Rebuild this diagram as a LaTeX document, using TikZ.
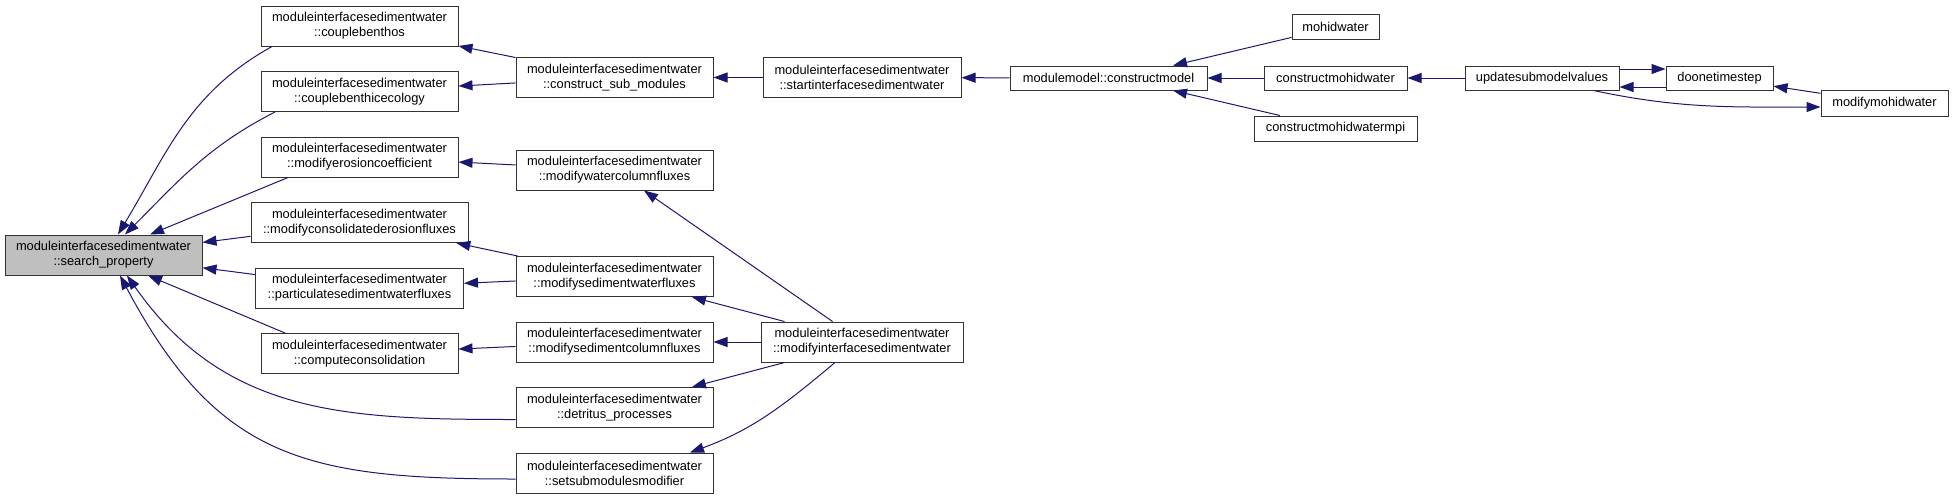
\documentclass[tikz,border=0pt]{standalone}
\usepackage{fontspec}
\setmainfont{Liberation Sans}
\usepackage{tikz}
\usetikzlibrary{arrows.meta, positioning}
\usepackage{xcolor}
\definecolor{edgeblue}{HTML}{191970}

\begin{document}
\begin{tikzpicture}[
    x=1pt, y=1pt,
    node distance=65.5pt,
    func/.style={rectangle, draw=black!80, line width=1pt, fill=white, inner sep=0pt, align=center, minimum width=197pt, minimum height=40pt, font=\fontsize{12.85}{15}\selectfont},
    focus/.style={func, fill=black!25},
    single/.style={func, minimum height=24pt},
    arrow/.style={-{Triangle[length=14pt, width=10pt]}, edgeblue, line width=1pt}
]
\useasboundingbox (0,0) rectangle (1953,-499);

% The function that is searched for
\node[focus] (search_prop) at (103.5,-255) {moduleinterfacesedimentwater\\::search\_property};

% Direct callers arranged vertically
\node[func] (couple_benthos) at (359.5,-26) {moduleinterfacesedimentwater\\::couplebenthos};
\node[func, below of=couple_benthos] (couple_eco) {moduleinterfacesedimentwater\\::couplebenthicecology};
\node[func, below of=couple_eco] (mod_erosion) {moduleinterfacesedimentwater\\::modifyerosioncoefficient};
\node[func, below of=mod_erosion, minimum width=217pt] (mod_consol) {moduleinterfacesedimentwater\\::modifyconsolidatederosionfluxes};
\node[func, below of=mod_consol, minimum width=208pt] (particulate) {moduleinterfacesedimentwater\\::particulatesedimentwaterfluxes};
\node[func, below of=particulate] (compute_consol) {moduleinterfacesedimentwater\\::computeconsolidation};

% Next column
\node[func] (construct_sub) at (614.5,-77.5) {moduleinterfacesedimentwater\\::construct\_sub\_modules};
\node[func] (mod_watercol) at (614.5,-170) {moduleinterfacesedimentwater\\::modifywatercolumnfluxes};
\node[func] (mod_sedwater) at (614.5,-276.5) {moduleinterfacesedimentwater\\::modifysedimentwaterfluxes};
\node[func, below of=mod_sedwater] (mod_sedcol) {moduleinterfacesedimentwater\\::modifysedimentcolumnfluxes};
\node[func, below of=mod_sedcol] (detritus) {moduleinterfacesedimentwater\\::detritus\_processes};
\node[func, below of=detritus] (set_sub) {moduleinterfacesedimentwater\\::setsubmodulesmodifier};

\node[func, minimum width=198pt] (start_isw) at (862,-77.5) {moduleinterfacesedimentwater\\::startinterfacesedimentwater};
\node[func, minimum width=202pt] (modify_isw) at (862,-342) {moduleinterfacesedimentwater\\::modifyinterfacesedimentwater};

% Model and main program
\node[single] (model) at (1108.5,-78) {modulemodel::constructmodel};
\node[single, minimum width=87pt, minimum height=25pt] (mohid) at (1335.5,-27) {mohidwater};
\node[single, minimum width=143pt] (cmohid) at (1335.5,-78) {constructmohidwater};
\node[single, minimum width=163pt, minimum height=25pt] (cmohid_mpi) at (1335.5,-128.5) {constructmohidwatermpi};
\node[single, minimum width=154pt] (update) at (1542,-78) {updatesubmodelvalues};
\node[single, minimum width=107pt] (timestep) at (1719.5,-78) {doonetimestep};
\node[single, minimum width=127pt, minimum height=26pt] (modify_mohid) at (1884.5,-103) {modifymohidwater};

% Calls into search_property
\draw[arrow] ([xshift=-87.5pt]couple_benthos.south) to[out=-151, in=59] ([xshift=14.5pt]search_prop.north);
\draw[arrow] ([xshift=-84.5pt]couple_eco.south) to[out=-153, in=45] ([xshift=21.5pt]search_prop.north);
\draw[arrow] ([xshift=-71.5pt]mod_erosion.south) -- ([xshift=46.5pt]search_prop.north);
\draw[arrow] (mod_consol) -- (search_prop);
\draw[arrow] (particulate) -- (search_prop);
\draw[arrow] ([xshift=-74.5pt]compute_consol.north) -- ([xshift=44.5pt]search_prop.south);
\draw[arrow] ([yshift=-12pt]detritus.west) to[out=180, in=-55, looseness=1.05] ([xshift=23.5pt]search_prop.south);
\draw[arrow] ([yshift=-6pt]set_sub.west) to[out=180, in=-62, looseness=1.2] ([xshift=16.5pt]search_prop.south);

% Second level calls
\draw[arrow] (construct_sub) -- (couple_benthos);
\draw[arrow] (construct_sub) -- (couple_eco);
\draw[arrow] (mod_watercol) -- (mod_erosion);
\draw[arrow] (mod_sedwater) -- (mod_consol);
\draw[arrow] (mod_sedwater) -- (particulate);
\draw[arrow] (mod_sedcol) -- (compute_consol);

\draw[arrow] (start_isw) -- (construct_sub);
\draw[arrow] (modify_isw) -- (mod_watercol);
\draw[arrow] (modify_isw) -- (mod_sedwater);
\draw[arrow] (modify_isw) -- (mod_sedcol);
\draw[arrow] (modify_isw) -- (detritus);
\draw[arrow] ([xshift=-27pt]modify_isw.south) to[out=-140, in=20] ([xshift=75.5pt]set_sub.north);

% Model level
\draw[arrow] (model) -- (start_isw);
\draw[arrow] (mohid) -- ([xshift=64.5pt]model.north);
\draw[arrow] (cmohid) -- (model);
\draw[arrow] (cmohid_mpi) -- ([xshift=64.5pt]model.south);
\draw[arrow] (update) -- (cmohid);
\draw[arrow] ([yshift=9pt]update.east) -- ([yshift=9pt]timestep.west);
\draw[arrow] ([yshift=-9pt]timestep.west) -- ([yshift=-9pt]update.east);
\draw[arrow] ([xshift=-26pt]update.south east) to[out=-12, in=180] ([yshift=-4pt]modify_mohid.west);
\draw[arrow] (modify_mohid) -- (timestep);

\end{tikzpicture}
\end{document}
